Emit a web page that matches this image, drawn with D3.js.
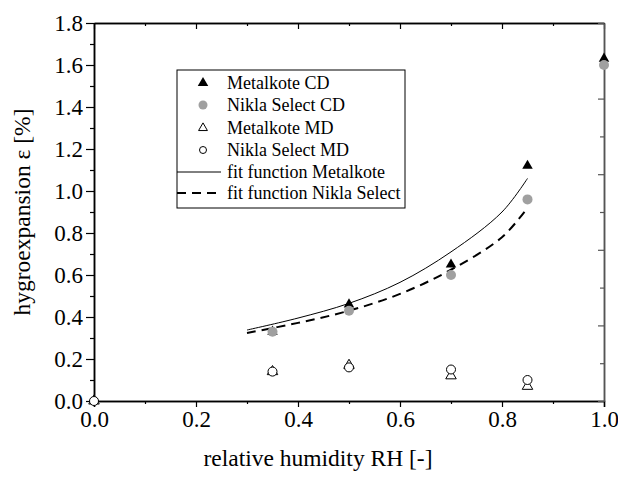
<!DOCTYPE html>
<html><head><meta charset="utf-8">
<script src="https://cdn.jsdelivr.net/npm/d3@7"></script>
<style>body{margin:0;background:#fff}svg{display:block}</style>
</head><body><svg id="c" width="618" height="477" font-family="Liberation Serif"></svg>
<script>
// Data
const rhMK_CD = [0.35, 0.5, 0.7, 0.85, 1.0];
const epsMK_CD = [0.33, 0.46, 0.65, 1.12, 1.63];
const rhNS_CD = [0.35, 0.5, 0.7, 0.85, 1.0];
const epsNS_CD = [0.33, 0.43, 0.60, 0.96, 1.60];
const rhMK_MD = [0.0, 0.35, 0.5, 0.7, 0.85];
const epsMK_MD = [0.0, 0.14, 0.17, 0.12, 0.07];
const rhNS_MD = [0.0, 0.35, 0.5, 0.7, 0.85];
const epsNS_MD = [0.0, 0.14, 0.16, 0.15, 0.10];
const fitRH = [0.30, 0.40, 0.50, 0.60, 0.70, 0.80, 0.85];
const fitMK = [0.338, 0.395, 0.465, 0.565, 0.71, 0.90, 1.06];
const fitNS = [0.324, 0.372, 0.43, 0.51, 0.625, 0.78, 0.92];
const xTicks = [0, 0.2, 0.4, 0.6, 0.8, 1.0];
const yTicks = [0, 0.2, 0.4, 0.6, 0.8, 1.0, 1.2, 1.4, 1.6, 1.8];
const legendLabels = ["Metalkote CD", "Nikla Select CD", "Metalkote MD", "Nikla Select MD", "fit function Metalkote", "fit function Nikla Select"];

const FONT = "Liberation Serif";
const svg = d3.select("#c");
const L = 94, R = 604, T = 23, B = 401;
const x = d3.scaleLinear().domain([0, 1]).range([L, R]);
const y = d3.scaleLinear().domain([0, 1.8]).range([B, T]);
const yr = d3.scaleLinear().domain([0, 10]).range([B, T]);
const fmt = d3.format(".1f");
const xMinor = d3.range(0.1, 1.0, 0.2);
const yMinor = d3.range(0.1, 1.8, 0.2);

function styleAxis(g, col) {
  g.attr("font-family", FONT);
  g.select(".domain").attr("stroke", col || "#000").attr("stroke-width", 1.5);
  g.selectAll(".tick line").attr("stroke", col || "#000").attr("stroke-width", 1.2);
  g.selectAll("text").attr("font-size", 23).attr("font-family", FONT).attr("fill", "#000");
}
// bottom
let g = svg.append("g").attr("transform", `translate(0,${B})`).call(d3.axisBottom(x).tickValues(xTicks).tickFormat(fmt).tickSize(6).tickPadding(4));
styleAxis(g);
g = svg.append("g").attr("transform", `translate(0,${B})`).call(d3.axisBottom(x).tickValues(xMinor).tickFormat("").tickSize(3).tickSizeOuter(0));
styleAxis(g);
// top
g = svg.append("g").attr("transform", `translate(0,${T})`).call(d3.axisTop(x).tickValues(xTicks).tickFormat("").tickSize(-6).tickSizeOuter(0));
styleAxis(g);
g = svg.append("g").attr("transform", `translate(0,${T})`).call(d3.axisTop(x).tickValues(xMinor).tickFormat("").tickSize(-3).tickSizeOuter(0));
styleAxis(g);
// left
g = svg.append("g").attr("transform", `translate(${L},0)`).call(d3.axisLeft(y).tickValues(yTicks).tickFormat(fmt).tickSize(8).tickPadding(3).tickSizeOuter(0));
styleAxis(g);
g = svg.append("g").attr("transform", `translate(${L},0)`).call(d3.axisLeft(y).tickValues(yMinor).tickFormat("").tickSize(4).tickSizeOuter(0));
styleAxis(g);
// right (secondary scale, inward ticks)
g = svg.append("g").attr("transform", `translate(${R},0)`).call(d3.axisRight(yr).tickValues([0,2,4,6,8,10]).tickFormat("").tickSize(-6).tickSizeOuter(0));
styleAxis(g, "#555");
g = svg.append("g").attr("transform", `translate(${R},0)`).call(d3.axisRight(yr).tickValues([1,3,5,7,9]).tickFormat("").tickSize(-4).tickSizeOuter(0));
styleAxis(g, "#555");

// titles
svg.append("text").attr("x", 318).attr("y", 466).attr("text-anchor", "middle").attr("font-family", FONT).attr("font-size", 23.5).text("relative humidity RH [-]");
svg.append("text").attr("transform", "translate(30,212) rotate(-90)").attr("text-anchor", "middle").attr("font-family", FONT).attr("font-size", 23.5).text("hygroexpansion ε [%]");

// fit lines
const line = d3.line().x(d => x(d[0])).y(d => y(d[1])).curve(d3.curveCatmullRom);
svg.append("path").attr("d", line(fitRH.map((r, i) => [r, fitMK[i]]))).attr("fill", "none").attr("stroke", "#000").attr("stroke-width", 1);
svg.append("path").attr("d", line(fitRH.map((r, i) => [r, fitNS[i]]))).attr("fill", "none").attr("stroke", "#000").attr("stroke-width", 2).attr("stroke-dasharray", "9,6");

// markers
const tri = d3.symbol().type(d3.symbolTriangle).size(48);
function drawTri(rh, eps, fill, stroke) {
  svg.append("g").selectAll("path").data(rh.map((r, i) => [r, eps[i]])).join("path")
    .attr("d", tri).attr("transform", d => `translate(${x(d[0])},${y(d[1])})`)
    .attr("fill", fill).attr("stroke", stroke).attr("stroke-width", 1);
}
function drawCirc(rh, eps, fill, stroke, r) {
  svg.append("g").selectAll("circle").data(rh.map((r, i) => [r, eps[i]])).join("circle")
    .attr("cx", d => x(d[0])).attr("cy", d => y(d[1])).attr("r", r)
    .attr("fill", fill).attr("stroke", stroke).attr("stroke-width", 1);
}
drawTri(rhMK_CD, epsMK_CD, "#000", "none");
drawCirc(rhNS_CD, epsNS_CD, "#a0a0a0", "none", 5);
drawTri(rhMK_MD, epsMK_MD, "#fff", "#000");
drawCirc(rhNS_MD, epsNS_MD, "#fff", "#000", 4.5);

// legend
const lg = svg.append("g");
lg.append("rect").attr("x", 177).attr("y", 70).attr("width", 228).attr("height", 138).attr("fill", "#fff").attr("stroke", "#000").attr("stroke-width", 1);
const rowY = [83, 105, 128, 150, 172, 193];
legendLabels.forEach((t, i) => {
  lg.append("text").attr("x", 227).attr("y", rowY[i] + 6).attr("font-family", FONT).attr("font-size", 18).text(t);
});
lg.append("path").attr("d", tri).attr("transform", `translate(203,${rowY[0]})`).attr("fill", "#000");
lg.append("circle").attr("cx", 203).attr("cy", rowY[1]).attr("r", 4.5).attr("fill", "#a0a0a0");
lg.append("path").attr("d", d3.symbol().type(d3.symbolTriangle).size(34)).attr("transform", `translate(203,${rowY[2]})`).attr("fill", "#fff").attr("stroke", "#000");
lg.append("circle").attr("cx", 203).attr("cy", rowY[3]).attr("r", 3.5).attr("fill", "#fff").attr("stroke", "#000");
lg.append("line").attr("x1", 177).attr("x2", 221).attr("y1", rowY[4]).attr("y2", rowY[4]).attr("stroke", "#000").attr("stroke-width", 1);
lg.append("line").attr("x1", 177).attr("x2", 221).attr("y1", rowY[5]).attr("y2", rowY[5]).attr("stroke", "#000").attr("stroke-width", 2).attr("stroke-dasharray", "9,6");
</script></body></html>
